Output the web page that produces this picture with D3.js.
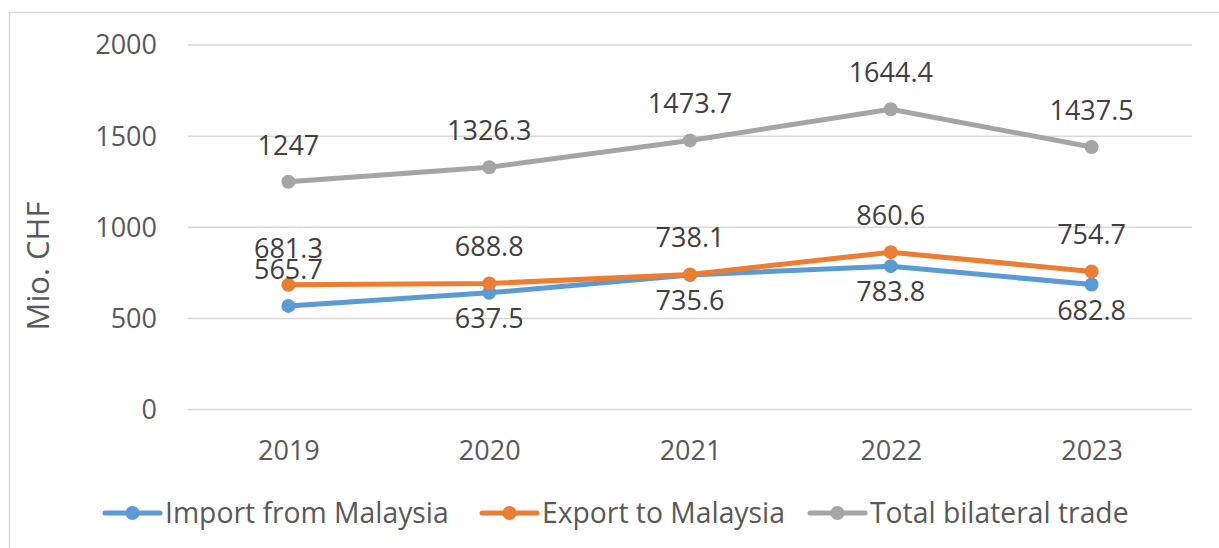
<!DOCTYPE html>
<html><head><meta charset="utf-8">
<script src="https://cdn.jsdelivr.net/npm/d3@7"></script>
<style>
html,body{margin:0;padding:0;background:#fff;}
svg{display:block;}
text{font-family:"Open Sans",sans-serif;}
</style></head>
<body>
<svg id="chart" width="1219" height="548"></svg>
<script>
const years = ["2019","2020","2021","2022","2023"];
const importVals = [565.7, 637.5, 735.6, 783.8, 682.8];
const exportVals = [681.3, 688.8, 738.1, 860.6, 754.7];
const totalVals = [1247, 1326.3, 1473.7, 1644.4, 1437.5];
const yTicks = [0, 500, 1000, 1500, 2000];
const importLabelPos = ["above","below","below","below","below"];
const exportLabelPos = ["above","above","above","above","above"];
const totalLabelPos = ["above","above","above","above","above"];
const seriesNames = ["Import from Malaysia","Export to Malaysia","Total bilateral trade"];
const seriesColors = ["#5B9BD5","#ED7D31","#A5A5A5"];
const yTitle = "Mio. CHF";

const svg = d3.select("#chart");
const fs = 27;

// outer border
svg.append("rect").attr("x",9.5).attr("y",12.5).attr("width",1215).attr("height",545)
  .attr("fill","none").attr("stroke","#D9D9D9").attr("stroke-width",1.5);

const x = d3.scalePoint().domain(years).range([188,1192]).padding(0.5);
const y = d3.scaleLinear().domain([0,2000]).range([409,44.5]);

// gridlines
const yAxis = d3.axisLeft(y).tickValues(yTicks).tickSize(-(1192-188)).tickPadding(31).tickFormat(d3.format("d"));
const ga = svg.append("g").attr("transform","translate(188,0)").call(yAxis);
ga.select(".domain").remove();
ga.selectAll(".tick line").attr("stroke","#D9D9D9").attr("stroke-width",1.5);
ga.selectAll(".tick text").attr("fill","#595959").attr("font-size",fs).attr("font-family","Open Sans").attr("dy","0.35em");

// x axis labels
const xAxis = d3.axisBottom(x).tickSize(0).tickPadding(0);
const gx = svg.append("g").attr("transform","translate(0,409)").call(xAxis);
gx.select(".domain").remove();
gx.selectAll(".tick text").attr("fill","#595959").attr("font-size",fs).attr("font-family","Open Sans").attr("dy",null).attr("y",51);

// y title
svg.append("text").attr("transform","translate(49,266) rotate(-90)").attr("text-anchor","middle")
  .attr("fill","#595959").attr("font-size",31).text(yTitle);

const series = [
  {vals: importVals, pos: importLabelPos, color: seriesColors[0]},
  {vals: exportVals, pos: exportLabelPos, color: seriesColors[1]},
  {vals: totalVals, pos: totalLabelPos, color: seriesColors[2]}
];
const line = d3.line().x((d,i)=>x(years[i])).y(d=>y(d));
series.forEach(s=>{
  svg.append("path").datum(s.vals).attr("d",line).attr("fill","none")
    .attr("stroke",s.color).attr("stroke-width",5).attr("stroke-linejoin","round").attr("stroke-linecap","round");
  svg.selectAll(null).data(s.vals).enter().append("circle")
    .attr("cx",(d,i)=>x(years[i])).attr("cy",d=>y(d)).attr("r",7).attr("fill",s.color);
});
series.forEach(s=>{
  svg.selectAll(null).data(s.vals).enter().append("text")
    .attr("x",(d,i)=>x(years[i]))
    .attr("y",(d,i)=> s.pos[i]==="above" ? y(d)-27 : y(d)+35)
    .attr("text-anchor","middle").attr("fill","#404040").attr("font-size",fs)
    .text(d=>String(d));
});

// legend
const legendItems = [
  {name: seriesNames[0], color: seriesColors[0], x0: 105},
  {name: seriesNames[1], color: seriesColors[1], x0: 482},
  {name: seriesNames[2], color: seriesColors[2], x0: 810}
];
const lg = svg.append("g");
legendItems.forEach(it=>{
  lg.append("line").attr("x1",it.x0).attr("x2",it.x0+55).attr("y1",513).attr("y2",513)
    .attr("stroke",it.color).attr("stroke-width",5).attr("stroke-linecap","round");
  lg.append("circle").attr("cx",it.x0+27.5).attr("cy",513).attr("r",7).attr("fill",it.color);
  lg.append("text").attr("x",it.x0+60).attr("y",523).attr("fill","#595959").attr("font-size",28.3).text(it.name);
});
</script>
</body></html>
